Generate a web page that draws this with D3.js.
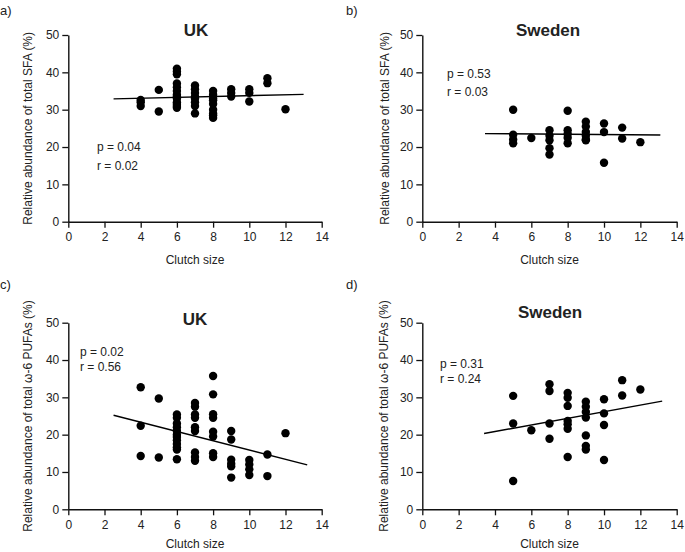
<!DOCTYPE html>
<html><head><meta charset="utf-8">
<script src="https://cdn.jsdelivr.net/npm/d3@7"></script>
<style>body{margin:0;background:#fff}svg{display:block}text{font-family:"Liberation Sans",Arial,sans-serif;fill:#222}</style>
</head><body><svg id="c" width="685" height="552"></svg>
<script>
// ---- data ----
const xTicks = [0,2,4,6,8,10,12,14];
const yTicks = [0,10,20,30,40,50];
const panelLabels = ["a)","b)","c)","d)"];
const panelTitles = ["UK","Sweden","UK","Sweden"];
const yLabels = ["Relative abundance of total SFA (%)","Relative abundance of total SFA (%)",
  "Relative abundance of total \u03c9-6 PUFAs (%)","Relative abundance of total \u03c9-6 PUFAs (%)"];
const xLabel = "Clutch size";
const statsP = ["p = 0.04","p = 0.53","p = 0.02","p = 0.31"];
const statsR = ["r = 0.02","r = 0.03","r = 0.56","r = 0.24"];

// points as [clutch size, value]
const ukSFA = [
 [4,31],[4,32],[4,32.6],
 [5,35.3],[5,29.5],
 [6,41],[6,40.2],[6,39.5],[6,37],[6,36],[6,35],[6,34],[6,33.5],[6,33],[6,32],[6,31.5],[6,31],[6,30.5],
 [7,36.5],[7,35.5],[7,34.5],[7,33.5],[7,33],[7,32],[7,31],[7,29],
 [8,35],[8,34],[8,33],[8,32.5],[8,31.5],[8,30],[8,29],[8,28.5],[8,27.8],
 [9,35.5],[9,34.5],[9,33.5],
 [10,35.5],[10,34.5],[10,32.2],
 [11,38.4],[11,37.1],
 [12,30.1]
];
const seSFA = [
 [5,30],[5,23.3],[5,22],[5,21],
 [6,22.4],
 [7,24.5],[7,23],[7,21.8],[7,19.7],[7,18],
 [8,29.7],[8,24.5],[8,23.5],[8,22.5],[8,21],
 [9,26.8],[9,25.5],[9,24],[9,23],[9,22],[9,21.8],
 [10,26.3],[10,24],[10,15.8],
 [11,25.2],[11,22.3],
 [12,21.3]
];
const ukPUFA = [
 [4,32.7],[4,22.4],[4,14.3],
 [5,29.7],[5,13.9],
 [6,25.4],[6,24.5],[6,23],[6,22],[6,21],[6,20],[6,19.4],[6,18.5],[6,17.5],[6,16.6],[6,16],[6,13.4],
 [7,28.5],[7,27.5],[7,25.4],[7,24.5],[7,22],[7,21],[7,15.2],[7,14],[7,13],
 [8,35.7],[8,30.8],[8,25.5],[8,24.5],[8,20.8],[8,19.5],[8,15],[8,14],
 [9,21],[9,18.7],[9,13.3],[9,12.2],[9,11.5],[9,8.5],
 [10,13.2],[10,12],[10,10.7],[10,9.2],
 [11,14.7],[11,8.9],
 [12,20.4]
];
const sePUFA = [
 [5,30.4],[5,23],[5,7.6],
 [6,21.2],
 [7,33.5],[7,31.7],[7,23],[7,18.9],
 [8,31.2],[8,29.9],[8,27.7],[8,23.7],[8,22.8],[8,21.6],[8,14],
 [9,28.8],[9,27.5],[9,26.1],[9,24.6],[9,19.8],[9,17],[9,16],
 [10,29.5],[10,25.7],[10,22.6],[10,13.2],
 [11,34.6],[11,30.5],
 [12,32.1]
];
// regression line end points [x0,x1] and [y0,y1]
const fitX = [[2.5,13],[3.45,13.1],[2.5,13.2],[3.4,13.2]];
const fitY = [[32.9,34.1],[23.6,23.2],[25.2,11.9],[20.3,29.0]];
const allPoints = [ukSFA, seSFA, ukPUFA, sePUFA];

// ---- layout ----
const panels = [
 {l:68.3, r:321.7, t:35, b:221.7, lab:[0,10], title:[196,30], stats:[97,147,166], ylab:28, xl:42},
 {l:422.3, r:676.7, t:35, b:221.7, lab:[346,10], title:[548,30], stats:[447,74,92], ylab:385, xl:42},
 {l:68.3, r:321.7, t:322.7, b:509.3, lab:[0,284], title:[195,319], stats:[80,352,367], ylab:28, xl:39},
 {l:422.3, r:676.7, t:322.7, b:509.3, lab:[346,284], title:[550,312], stats:[440,364,379], ylab:384, xl:39}
];

const svg = d3.select("#c");
panels.forEach((p,i)=>{
  const x = d3.scaleLinear().domain([0,14]).range([p.l,p.r]);
  const y = d3.scaleLinear().domain([0,50]).range([p.b,p.t]);
  const g = svg.append("g");
  // axes
  const ya = g.append("g").attr("transform",`translate(${p.l},0)`)
    .call(d3.axisLeft(y).tickValues(yTicks).tickSize(6).tickPadding(3).tickSizeOuter(0));
  const xa = g.append("g").attr("transform",`translate(0,${p.b})`)
    .call(d3.axisBottom(x).tickValues(xTicks).tickSize(6).tickPadding(5).tickSizeOuter(0));
  [ya,xa].forEach(a=>{
    a.select(".domain").attr("stroke","#111").attr("stroke-width",1.4);
    a.selectAll(".tick line").attr("stroke","#111").attr("stroke-width",1.3);
    a.selectAll(".tick text").attr("font-size",12).attr("fill","#222")
      .attr("font-family",'"Liberation Sans",Arial,sans-serif');
  });
  // points
  g.append("g").selectAll("circle").data(allPoints[i]).join("circle")
    .attr("cx",d=>x(d[0])).attr("cy",d=>y(d[1])).attr("r",4.2).attr("fill","#000");
  // fit line
  g.append("line")
    .attr("x1",x(fitX[i][0])).attr("x2",x(fitX[i][1]))
    .attr("y1",y(fitY[i][0])).attr("y2",y(fitY[i][1]))
    .attr("stroke","#000").attr("stroke-width",1.4);
  // texts
  g.append("text").attr("x",p.lab[0]).attr("y",p.lab[1]+5).attr("font-size",13).text(panelLabels[i]);
  g.append("text").attr("x",p.title[0]).attr("y",p.title[1]+6).attr("text-anchor","middle")
    .attr("font-size",17).attr("font-weight","bold").attr("fill","#000").text(panelTitles[i]);
  g.append("text").attr("x",p.stats[0]).attr("y",p.stats[1]+4).attr("font-size",12).text(statsP[i]);
  g.append("text").attr("x",p.stats[0]).attr("y",p.stats[2]+4).attr("font-size",12).text(statsR[i]);
  g.append("text").attr("transform",`translate(${p.ylab+4},${(p.t+p.b)/2}) rotate(-90)`)
    .attr("text-anchor","middle").attr("font-size",12).text(yLabels[i]);
  g.append("text").attr("x",(p.l+p.r)/2).attr("y",p.b+p.xl).attr("text-anchor","middle")
    .attr("font-size",12).text(xLabel);
});
</script></body></html>
